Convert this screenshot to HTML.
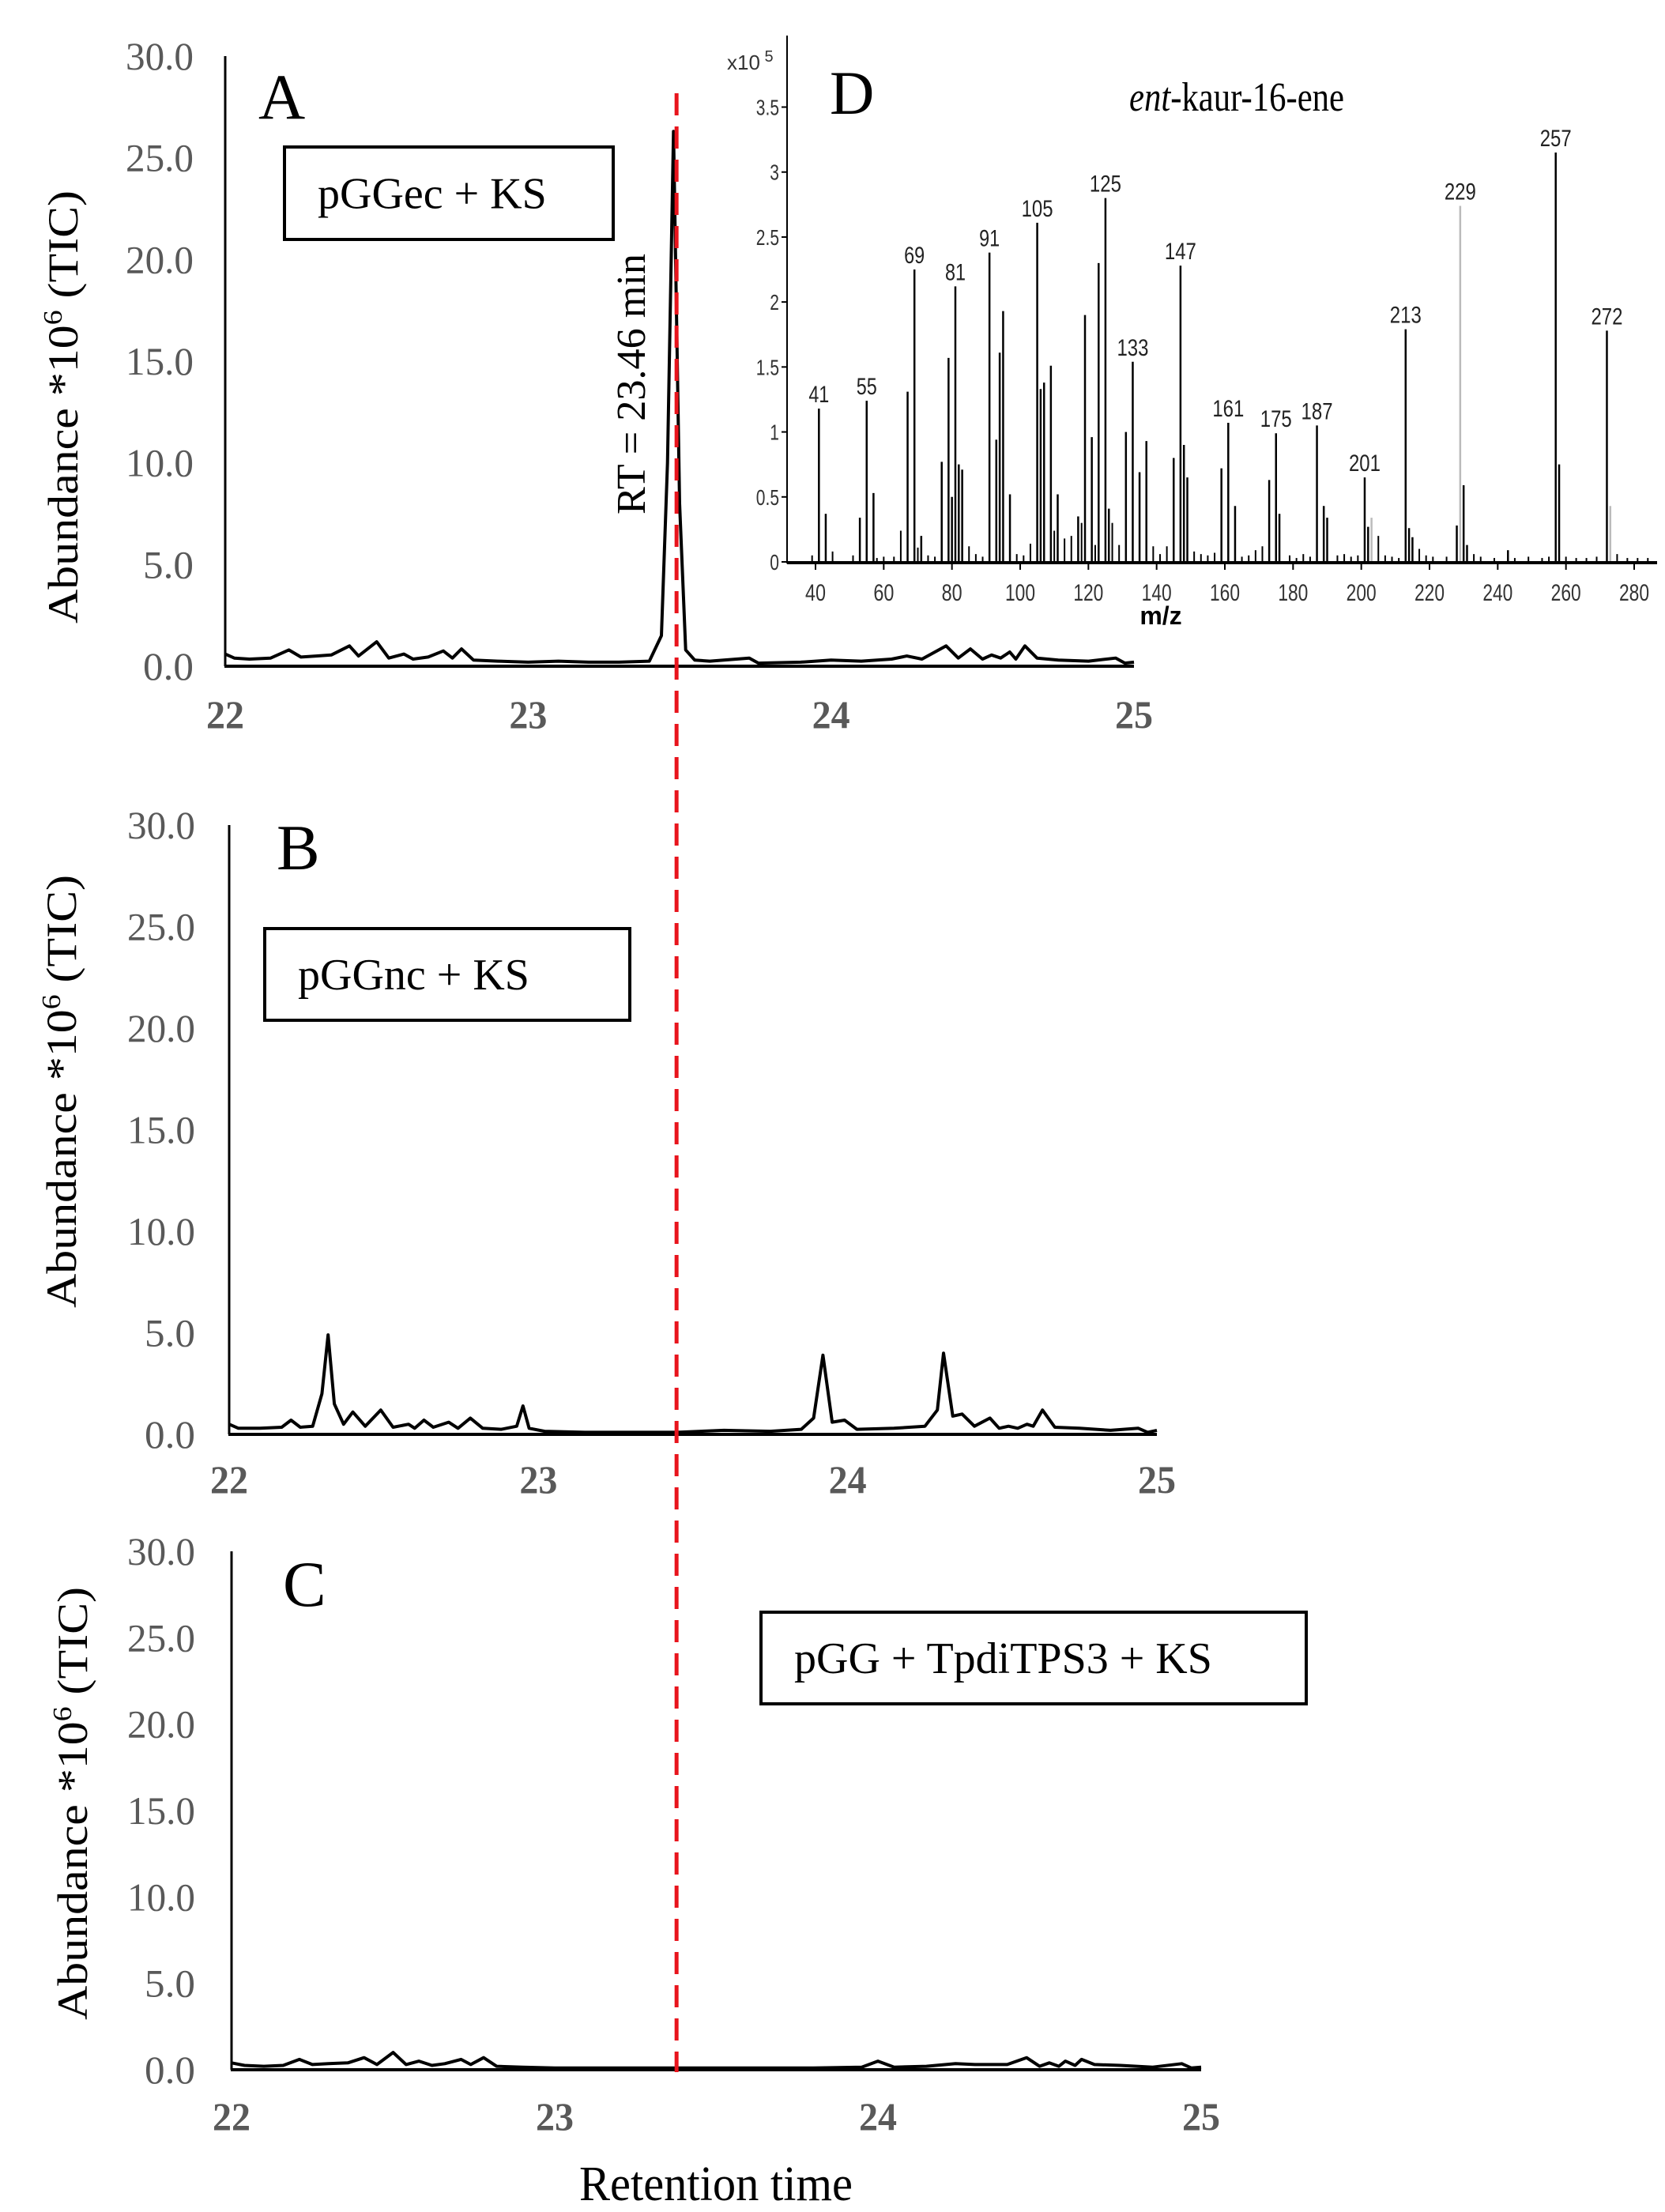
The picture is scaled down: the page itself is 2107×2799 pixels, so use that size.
<!DOCTYPE html>
<html><head><meta charset="utf-8"><style>
html,body{margin:0;padding:0;background:#fff}
svg{display:block}
</style></head><body>
<svg id="fig" xmlns="http://www.w3.org/2000/svg" width="2107" height="2799" viewBox="0 0 2107 2799">
<rect width="2107" height="2799" fill="#fff"/>
<g id="layer"></g>
</svg>
<script>
// ---- chromatogram data (time in min, abundance *10^6) ----
const timesA = [22.00,22.03,22.08,22.15,22.21,22.25,22.30,22.35,22.41,22.44,22.50,22.54,22.59,22.62,22.67,22.72,22.75,22.78,22.82,22.90,23.00,23.10,23.20,23.30,23.40,23.44,23.46,23.48,23.50,23.52,23.55,23.60,23.73,23.76,23.90,24.00,24.10,24.20,24.25,24.30,24.38,24.42,24.46,24.50,24.53,24.56,24.59,24.61,24.64,24.68,24.75,24.85,24.94,24.97,25.00];
const valuesA = [0.6,0.4,0.35,0.4,0.8,0.45,0.5,0.55,1.0,0.5,1.2,0.4,0.6,0.35,0.45,0.75,0.4,0.85,0.3,0.25,0.2,0.25,0.2,0.2,0.25,1.5,10,26.3,8,0.8,0.3,0.25,0.4,0.15,0.2,0.3,0.25,0.35,0.5,0.35,1.0,0.4,0.85,0.35,0.55,0.4,0.7,0.35,1.0,0.4,0.3,0.25,0.4,0.15,0.2];
const timesB = [22.00,22.03,22.10,22.17,22.20,22.23,22.27,22.30,22.32,22.34,22.37,22.40,22.44,22.49,22.53,22.58,22.60,22.63,22.66,22.71,22.74,22.78,22.82,22.88,22.93,22.95,22.97,23.02,23.15,23.30,23.45,23.60,23.75,23.85,23.89,23.92,23.95,23.99,24.03,24.15,24.25,24.29,24.31,24.34,24.37,24.41,24.46,24.49,24.52,24.55,24.58,24.60,24.63,24.67,24.75,24.85,24.94,24.97,25.00];
const valuesB = [0.5,0.3,0.3,0.35,0.7,0.35,0.4,2.0,4.9,1.5,0.5,1.1,0.4,1.2,0.35,0.5,0.3,0.7,0.35,0.6,0.3,0.8,0.3,0.25,0.4,1.4,0.3,0.15,0.1,0.1,0.1,0.2,0.15,0.25,0.8,3.9,0.6,0.7,0.25,0.3,0.4,1.2,4.0,0.9,1.0,0.4,0.8,0.3,0.4,0.3,0.5,0.4,1.2,0.35,0.3,0.2,0.3,0.1,0.2];
const timesC = [22.00,22.04,22.10,22.16,22.21,22.25,22.30,22.36,22.41,22.45,22.50,22.54,22.58,22.62,22.66,22.71,22.74,22.78,22.82,22.90,23.00,23.20,23.40,23.60,23.80,23.95,24.00,24.05,24.15,24.24,24.30,24.40,24.46,24.50,24.53,24.56,24.58,24.61,24.63,24.67,24.75,24.85,24.94,24.97,25.00];
const valuesC = [0.4,0.25,0.2,0.25,0.6,0.3,0.35,0.4,0.7,0.3,1.0,0.3,0.5,0.25,0.35,0.6,0.3,0.7,0.2,0.15,0.1,0.1,0.1,0.1,0.1,0.15,0.5,0.15,0.2,0.35,0.3,0.3,0.7,0.2,0.4,0.2,0.5,0.25,0.6,0.3,0.25,0.15,0.35,0.1,0.15];
const yTickLabels = ["0.0","5.0","10.0","15.0","20.0","25.0","30.0"];
const yTickValues = [0,5,10,15,20,25,30];
const xTickValues = [22,23,24,25];
const rtMarker = 23.49;

// ---- mass spectrum data (m/z, abundance x10^5) ----
const msMz = [41,43,53,55,57,67,69,71,77,79,80,81,82,83,91,93,94,95,97,105,106,107,109,111,117,119,121,123,125,126,131,133,135,137,145,147,148,149,159,161,163,173,175,176,187,189,190,201,202,213,214,215,228,230,231,243,257,258,272];
const msAbund = [1.18,0.37,0.34,1.24,0.53,1.31,2.25,0.2,0.77,1.57,0.5,2.12,0.75,0.71,2.38,0.94,1.61,1.93,0.52,2.61,1.33,1.38,1.51,0.52,0.35,1.9,0.96,2.3,2.8,0.41,1.0,1.54,0.69,0.93,0.8,2.28,0.9,0.65,0.72,1.07,0.43,0.63,0.99,0.37,1.05,0.43,0.34,0.65,0.27,1.79,0.26,0.19,0.28,0.59,0.13,0.09,3.15,0.75,1.78];
const msGrayMz = [203,229,273];
const msGrayAbund = [0.34,2.74,0.43];
const msNoiseMz = [39,45,51,58,60,63,65,70,73,75,85,87,89,99,101,103,110,113,115,118,122,127,129,139,141,143,151,153,155,157,165,167,169,171,179,181,183,185,193,195,197,199,205,207,209,211,217,219,221,225,233,235,239,245,249,253,255,260,263,266,269,275,278,281,284];
const msNoiseAbund = [0.05,0.08,0.05,0.03,0.04,0.04,0.24,0.11,0.05,0.04,0.12,0.06,0.04,0.06,0.05,0.14,0.24,0.18,0.2,0.3,0.13,0.3,0.13,0.12,0.06,0.12,0.08,0.06,0.05,0.07,0.04,0.05,0.09,0.12,0.05,0.03,0.06,0.04,0.05,0.06,0.04,0.05,0.2,0.05,0.04,0.03,0.1,0.05,0.04,0.04,0.06,0.04,0.03,0.03,0.04,0.03,0.04,0.04,0.03,0.03,0.04,0.06,0.03,0.03,0.03];
const msLabelMz = [41,55,69,81,91,105,125,133,147,161,175,187,201,213,229,257,272];
const msYTickLabels = ["0","0.5","1","1.5","2","2.5","3","3.5"];
const msYTickValues = [0,0.5,1,1.5,2,2.5,3,3.5];
const msXTickValues = [40,60,80,100,120,140,160,180,200,220,240,260,280];

const NS = "http://www.w3.org/2000/svg";
const layer = document.getElementById('layer');
function mk(tag, attrs, parent){
  const e = document.createElementNS(NS, tag);
  for (const k in attrs) e.setAttribute(k, attrs[k]);
  (parent||layer).appendChild(e);
  return e;
}

const panels = [
  {id:'a', ax:285, x25:1435, y0:843, y30:71, times:timesA, vals:valuesA, xlabY:904, ylabX:245,
   titleX:80, titleY:515, letter:'A', lx:327, ly:150, box:[360,186,416,117], boxText:'pGGec + KS'},
  {id:'b', ax:290, x25:1464, y0:1815, y30:1044, times:timesB, vals:valuesB, xlabY:1872, ylabX:247,
   titleX:78, titleY:1381, letter:'B', lx:350, ly:1100, box:[335,1175,462,116], boxText:'pGGnc + KS'},
  {id:'c', ax:293, x25:1520, y0:2619, y30:1963, times:timesC, vals:valuesC, xlabY:2678, ylabX:247,
   titleX:92, titleY:2282, letter:'C', lx:358, ly:2032, box:[963,2040,690,116], boxText:'pGG + TpdiTPS3 + KS'}
];

panels.forEach(p=>{
  const g = mk('g', {});
  
  
  const xs = t => p.ax + (t-22)/3*(p.x25-p.ax);
  const ys = v => p.y0 - v/30*(p.y0-p.y30);
  const yAxis = mk('line', {x1:p.ax, y1:p.y30, x2:p.ax, y2:p.y0, stroke:'#000', 'stroke-width':3}, g);
  
  
  const xAxis = mk('line', {x1:p.ax-1, y1:p.y0, x2:p.x25, y2:p.y0, stroke:'#000', 'stroke-width':4}, g);
  
  
  yTickValues.forEach((v,i)=>{
    const t = mk('text', {x:p.ylabX, y:ys(v)+17, 'text-anchor':'end', 'font-family':'Liberation Serif, serif', 'font-size':50, fill:'#595959', textLength:(yTickLabels[i].length>3?86:64), lengthAdjust:'spacingAndGlyphs'}, g);
    t.textContent = yTickLabels[i];
    
    
  });
  xTickValues.forEach(v=>{
    const t = mk('text', {x:xs(v), y:p.xlabY+17, 'text-anchor':'middle', 'font-family':'Liberation Serif, serif', 'font-size':50, 'font-weight':'bold', fill:'#595959', textLength:48, lengthAdjust:'spacingAndGlyphs'}, g);
    t.textContent = String(v);
    
    
  });
  const tt = mk('text', {x:0, y:0, transform:`translate(${p.titleX+18},${p.titleY}) rotate(-90)`, 'text-anchor':'middle', 'font-family':'Liberation Serif, serif', 'font-size':54, fill:'#000', textLength:548, lengthAdjust:'spacingAndGlyphs'}, g);
  tt.innerHTML = 'Abundance *10<tspan dy="-20" font-size="34">6</tspan><tspan dy="20"> (TIC)</tspan>';
  
  
  const L = mk('text', {x:p.lx, y:p.ly, 'font-family':'Liberation Serif, serif', 'font-size':82, fill:'#000'}, g);
  L.textContent = p.letter;
  
  
  const [bx,by,bw,bh] = p.box;
  const bg = mk('g', {}, g);
  
  
  mk('rect', {x:bx, y:by, width:bw, height:bh, fill:'#fff', stroke:'#000', 'stroke-width':4}, bg);
  const btx = mk('text', {x:bx+42, y:by+bh/2+19, 'font-family':'Liberation Serif, serif', 'font-size':56, fill:'#000'}, bg);
  btx.textContent = p.boxText;
  
  
  const d = p.times.map((t,i)=>(i?'L':'M')+xs(t).toFixed(1)+','+ys(p.vals[i]).toFixed(1)).join(' ');
  const path = mk('path', {d:d, fill:'none', stroke:'#000', 'stroke-width':4, 'stroke-linejoin':'round'}, g);
  
  
});

const rt = mk('text', {x:0, y:0, transform:'translate(816,486) rotate(-90)', 'text-anchor':'middle', 'font-family':'Liberation Serif, serif', 'font-size':52, fill:'#000', textLength:330, lengthAdjust:'spacingAndGlyphs'});
rt.textContent = 'RT = 23.46 min';



const rxs = 285 + (rtMarker-22)/3*(1435-285);
const red = mk('line', {x1:rxs, y1:118, x2:rxs, y2:2622, stroke:'#e8141c', 'stroke-width':5, 'stroke-dasharray':'28 14'});



const xt = mk('text', {x:906, y:2784, 'text-anchor':'middle', 'font-family':'Liberation Serif, serif', 'font-size':62, fill:'#000', textLength:346, lengthAdjust:'spacingAndGlyphs'});
xt.textContent = 'Retention time';



// ---- mass spectrum panel D ----
const D = mk('g', {});


const mx = m => 1032 + (m-40)*(2068-1032)/240;
const my = v => 711 - v*(711-135.5)/3.5;
const msY = mk('line', {x1:996, y1:45, x2:996, y2:713, stroke:'#000', 'stroke-width':2}, D);


msYTickValues.forEach((v,i)=>{
  mk('line', {x1:989, y1:my(v), x2:996, y2:my(v), stroke:'#000', 'stroke-width':2}, D);
  const t = mk('text', {x:986, y:my(v)+10, 'text-anchor':'end', 'font-family':'Liberation Sans, sans-serif', 'font-size':28, fill:'#333', transform:`translate(${986*0.25},0) scale(0.75,1)`}, D);
  t.setAttribute('x', 986/0.75 - 986*0.25/0.75);
  t.textContent = msYTickLabels[i];
  
  
});
const exp = mk('text', {x:920, y:88, 'font-family':'Liberation Sans, sans-serif', 'font-size':26, fill:'#333'}, D);
exp.innerHTML = 'x10<tspan dy="-10" font-size="20"> 5</tspan>';


msNoiseMz.forEach((m,i)=>{
  const b = mk('line', {x1:mx(m), y1:711, x2:mx(m), y2:my(msNoiseAbund[i]), stroke:'#000', 'stroke-width':2}, D);
  
  
});
msMz.forEach((m,i)=>{
  const b = mk('line', {x1:mx(m), y1:711, x2:mx(m), y2:my(msAbund[i]), stroke:'#000', 'stroke-width':2.5}, D);
  
  
});
msGrayMz.forEach((m,i)=>{
  const b = mk('line', {x1:mx(m), y1:711, x2:mx(m), y2:my(msGrayAbund[i]), stroke:'#bbb', 'stroke-width':2.5}, D);
  
  
});
msLabelMz.forEach(m=>{
  let i = msMz.indexOf(m), v;
  if (i>=0) v = msAbund[i]; else v = msGrayAbund[msGrayMz.indexOf(m)];
  const t = mk('text', {x:mx(m), y:my(v)-8, 'text-anchor':'middle', 'font-family':'Liberation Sans, sans-serif', 'font-size':30, fill:'#222', textLength:(m>=100?40:26), lengthAdjust:'spacingAndGlyphs'}, D);
  t.textContent = String(m);
  
  
});
const msX = mk('line', {x1:996, y1:712, x2:2097, y2:712, stroke:'#000', 'stroke-width':4}, D);


msXTickValues.forEach(v=>{
  mk('line', {x1:mx(v), y1:713, x2:mx(v), y2:721, stroke:'#000', 'stroke-width':2}, D);
  const t = mk('text', {x:mx(v), y:760, 'text-anchor':'middle', 'font-family':'Liberation Sans, sans-serif', 'font-size':30, fill:'#333', textLength:(v>=100?38:26), lengthAdjust:'spacingAndGlyphs'}, D);
  t.textContent = String(v);
  
  
});
const mz = mk('text', {x:1469, y:790, 'text-anchor':'middle', 'font-family':'Liberation Sans, sans-serif', 'font-size':32, 'font-weight':'bold', fill:'#000'}, D);
mz.textContent = 'm/z';


const dl = mk('text', {x:1050, y:144, 'font-family':'Liberation Serif, serif', 'font-size':78, fill:'#000'}, D);
dl.textContent = 'D';


const cmp = mk('text', {x:1565, y:140, 'text-anchor':'middle', 'font-family':'Liberation Serif, serif', 'font-size':52, fill:'#000', textLength:272, lengthAdjust:'spacingAndGlyphs'}, D);
cmp.innerHTML = '<tspan font-style="italic">ent</tspan>-kaur-16-ene';


</script>
</body></html>
